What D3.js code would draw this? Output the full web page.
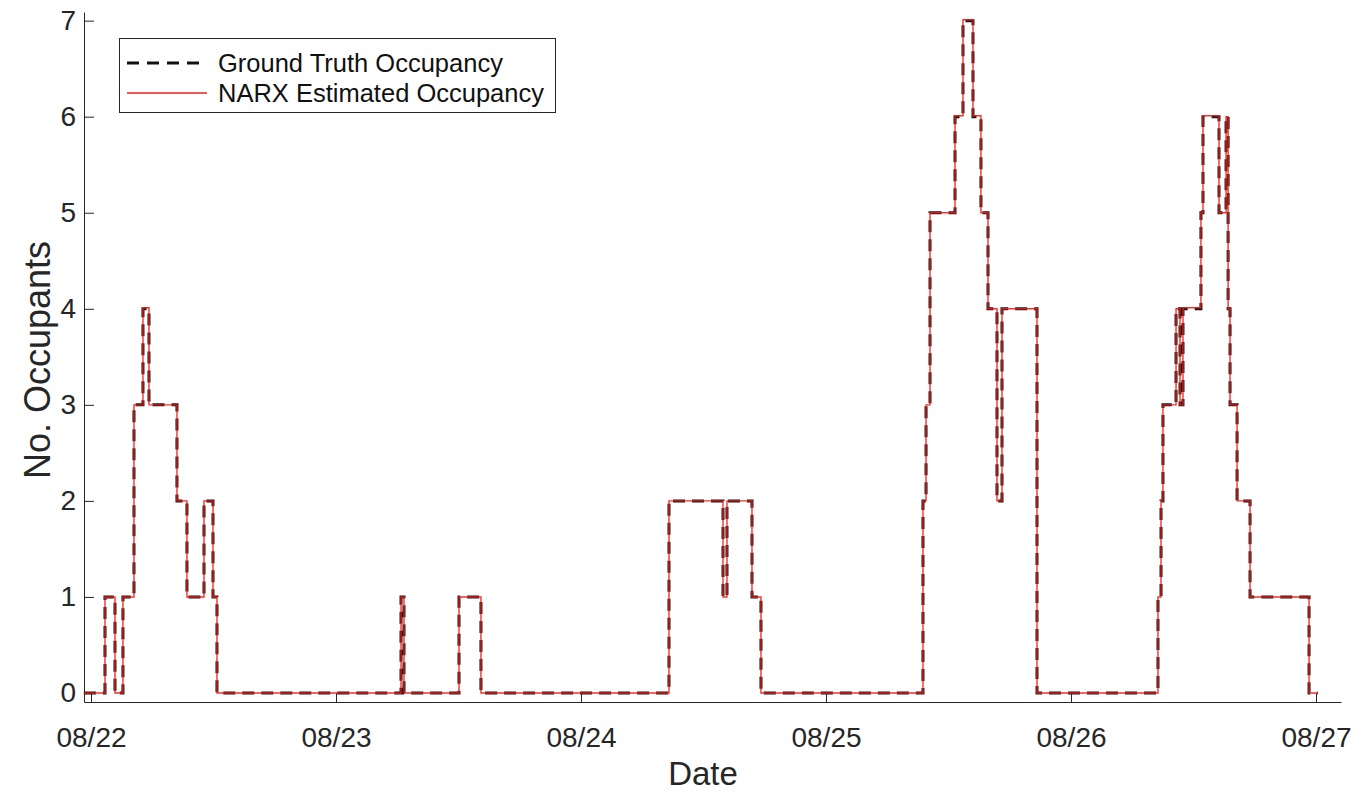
<!DOCTYPE html>
<html>
<head>
<meta charset="utf-8">
<script src="https://cdn.jsdelivr.net/npm/d3@7"></script>
<style>
	body { margin: 0; background: #fff; }
	svg { display: block; font-family: "Liberation Sans", Arial, sans-serif; }
	.axis path, .axis line { stroke: #262626; stroke-width: 1; }
	.axis text { fill: #262626; font-size: 28px; }
	.axis-title { fill: #262626; font-size: 33px; }
	.legend-labels { fill: #111; font-size: 25.5px; }
</style>
</head>
<body>
<svg id="chart" width="1356" height="794"></svg>
<script>
	//DATA: hours since 08/22 00:00 where the occupancy changes, and the new value
	var stepHours = [-0.7, 1.37, 2.35, 3.13, 4.21, 5.09, 5.68, 8.42, 9.40, 11.07, 11.95, 12.34,
		30.37, 30.66, 36.05, 38.20,
		56.62, 61.91, 62.30, 64.75, 65.63,
		81.50, 81.80, 82.19, 84.64, 85.42, 86.40, 87.18, 87.87, 88.75, 89.24, 92.67,
		104.52, 104.82, 105.01, 106.29, 106.68, 106.97, 108.73, 108.93, 110.50, 111.19, 111.39, 111.58, 112.27, 113.54, 119.32, 120.2];
	var groundTruth = [0, 1, 0, 1, 3, 4, 3, 2, 1, 2, 1, 0,
		1, 0, 1, 0,
		2, 1, 2, 1, 0,
		2, 3, 5, 6, 7, 6, 5, 4, 2, 4, 0,
		1, 2, 3, 4, 3, 4, 5, 6, 5, 6, 4, 3, 2, 1, 0, 0];
	var narxEstimate = [0, 1, 0, 1, 3, 4.01, 3, 2, 1, 2, 1, 0,
		1, 0, 1, 0,
		2, 1, 2, 1, 0,
		2, 3, 5, 6.01, 7.01, 6.01, 5, 4, 2, 4, 0,
		1, 2, 3, 4, 3, 4.01, 5, 6.01, 5, 6, 4, 3, 2, 1, 0, 0];
	var tickHours = [0, 24, 48, 72, 96, 120];
	var tickLabels = ["08/22", "08/23", "08/24", "08/25", "08/26", "08/27"];
	var yTicks = [0, 1, 2, 3, 4, 5, 6, 7];
	var legend = ["Ground Truth Occupancy", "NARX Estimated Occupancy"];

	(function () {
		var svg, x, y;
		svg = d3.select("#chart");
		x = d3.scaleLinear().domain([-0.686, 122.45]).range([84, 1341]);
		y = d3.scaleLinear().domain([-0.094, 7.09]).range([702, 12]);

		drawAxes();
		drawSeries(groundTruth, "#1c1414", 3, "12,7", 1);
		drawSeries(narxEstimate, "#e8201c", 1.4, null, 0.9);
		drawLegend();

		function drawAxes() {
			svg.append("g")
				.attr("class", "axis")
				.attr("transform", "translate(0,702)")
				.call(d3.axisBottom(x).tickValues(tickHours)
					.tickFormat(function (d, i) { return tickLabels[i]; })
					.tickSizeInner(-9).tickSizeOuter(0).tickPadding(25));

			svg.append("g")
				.attr("class", "axis")
				.attr("transform", "translate(84,0)")
				.call(d3.axisLeft(y).tickValues(yTicks)
					.tickSizeInner(-10).tickSizeOuter(0).tickPadding(8));

			svg.append("text")
				.attr("class", "axis-title")
				.attr("x", 703)
				.attr("y", 785)
				.attr("text-anchor", "middle")
				.text("Date");

			svg.append("text")
				.attr("class", "axis-title")
				.style("font-size", "36px")
				.attr("transform", "translate(50,360) rotate(-90)")
				.attr("text-anchor", "middle")
				.text("No. Occupants");
		}

		function drawSeries(values, color, width, dash, opacity) {
			var pts = stepHours.map(function (h, i) { return [h, values[i]]; });
			var line = d3.line()
				.x(function (d) { return x(d[0]); })
				.y(function (d) { return y(d[1]); })
				.curve(d3.curveStepAfter);
			svg.append("path")
				.datum(pts)
				.attr("d", line)
				.attr("fill", "none")
				.attr("stroke", color)
				.attr("stroke-width", width)
				.attr("stroke-dasharray", dash)
				.attr("stroke-opacity", opacity);
		}

		function drawLegend() {
			var g = svg.append("g").attr("class", "legend");
			g.append("rect")
				.attr("x", 119.5).attr("y", 38.5)
				.attr("width", 436).attr("height", 74)
				.attr("fill", "#fff").attr("stroke", "#262626").attr("stroke-width", 1);

			g.selectAll("line")
				.data(legend).enter()
				.append("line")
				.attr("x1", 127).attr("x2", 207)
				.attr("y1", function (d, i) { return 63 + 30 * i; })
				.attr("y2", function (d, i) { return 63 + 30 * i; })
				.attr("stroke", function (d, i) { return i ? "#e8201c" : "#111"; })
				.attr("stroke-width", function (d, i) { return i ? 1.4 : 3; })
				.attr("stroke-dasharray", function (d, i) { return i ? null : "12,8"; });

			g.selectAll("text")
				.data(legend).enter()
				.append("text")
				.attr("class", "legend-labels")
				.attr("x", 218)
				.attr("y", function (d, i) { return 72 + 30 * i; })
				.text(function (d) { return d; });
		}
	})();
</script>
</body>
</html>
